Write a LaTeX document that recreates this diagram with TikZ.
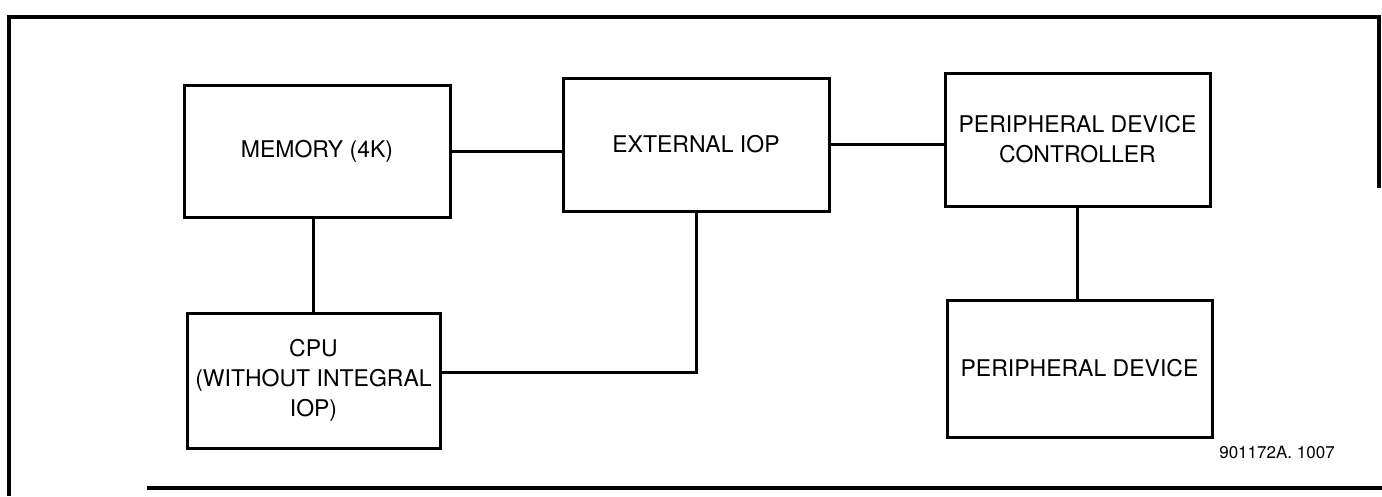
\documentclass[tikz,border=0pt]{standalone}
\usepackage{fontspec}
\setmainfont{TeX Gyre Heros}
\begin{document}
\begin{tikzpicture}[x=1pt,y=-1pt,
  blk/.style={draw, line width=3pt, minimum width=#1, inner sep=0pt, align=center,
    font=\fontsize{23}{30}\selectfont},
  wire/.style={line width=3pt},
  frame/.style={line width=3.2pt}]
\useasboundingbox (0,0) rectangle (1382,496);
\node[blk=266pt, minimum height=132pt] (mem) at (317,151) {MEMORY (4K)};
\node[blk=266pt, minimum height=133pt] (ext) at (696,144.5) {EXTERNAL IOP};
\node[blk=265pt, minimum height=133pt] (pdc) at (1077.5,139.5) {PERIPHERAL DEVICE\\CONTROLLER};
\node[blk=265pt, minimum height=137pt] (pd) at (1079.5,368.5) {PERIPHERAL DEVICE};
\node[blk=253pt, minimum height=135pt] (cpu) at (313.5,380.5) {CPU\\(WITHOUT INTEGRAL\\IOP)};
\node[font=\fontsize{17}{19}\selectfont] (lbl) at (1277,452) {901172A. 1007};
\draw[wire] (mem.east) -- (mem.east -| ext.west);
\draw[wire] (ext.east) -- (ext.east -| pdc.west);
\draw[wire] (cpu.north) -- (cpu.north |- mem.south);
\draw[wire] (ext.south) |- ([yshift=8pt]cpu.east);
\draw[wire] (pdc.south) -- (pdc.south |- pd.north);
\coordinate (f1) at (1379,188);
\coordinate (f2) at (1379,17);
\coordinate (f3) at (9,17);
\coordinate (f4) at (9,496);
\coordinate (b1) at (147,488);
\coordinate (b2) at (1382,488);
\draw[frame] (f1) -- (f2) -- (f3) -- (f4);
\draw[frame] (b1) -- (b2);
\end{tikzpicture}
\end{document}
